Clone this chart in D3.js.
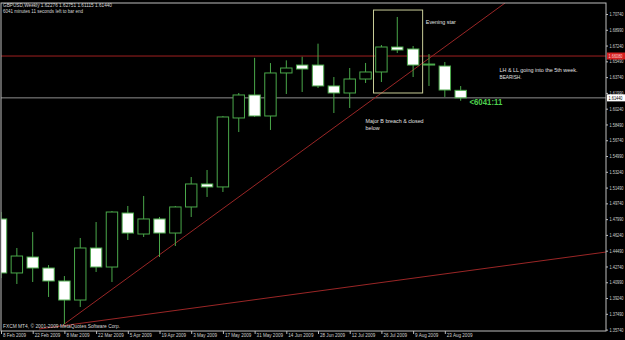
<!DOCTYPE html>
<html>
<head>
<meta charset="utf-8">
<script src="https://cdn.jsdelivr.net/npm/d3@7"></script>
<style>
  body { margin: 0; background: #000; }
  svg { display: block; }
  text { font-family: "Liberation Sans", Arial, sans-serif; }
</style>
</head>
<body>
<div id="chart"></div>
<script>
// GBPUSD weekly bars
var weeks = ["8 Feb 2009","15 Feb 2009","22 Feb 2009","1 Mar 2009","8 Mar 2009","15 Mar 2009",
  "22 Mar 2009","29 Mar 2009","5 Apr 2009","12 Apr 2009","19 Apr 2009","26 Apr 2009",
  "3 May 2009","10 May 2009","17 May 2009","24 May 2009","31 May 2009","7 Jun 2009",
  "14 Jun 2009","21 Jun 2009","28 Jun 2009","5 Jul 2009","12 Jul 2009","19 Jul 2009",
  "26 Jul 2009","2 Aug 2009","9 Aug 2009","16 Aug 2009","23 Aug 2009","30 Aug 2009"];

var opens  = [1.4801,1.4202,1.4379,1.4257,1.4113,1.3902,1.4479,1.4268,1.4867,1.4634,
              1.4801,1.4645,1.4934,1.5189,1.5156,1.5921,1.6176,1.5943,1.6420,1.6508,
              1.6508,1.6276,1.6198,1.6353,1.6431,1.6708,1.6686,1.6508,1.6497,1.62276];
var highs  = [1.4878,1.4479,1.4656,1.4290,1.4168,1.4590,1.4767,1.4889,1.4945,1.5056,
              1.4823,1.4945,1.5266,1.5344,1.5943,1.6198,1.6588,1.6530,1.6560,1.6600,
              1.6745,1.6375,1.6475,1.6531,1.6730,1.7041,1.6719,1.6630,1.6542,1.62751];
var lows   = [1.4146,1.4080,1.4102,1.3936,1.3636,1.3825,1.4213,1.4102,1.4568,1.4601,
              1.4379,1.4501,1.4823,1.5045,1.5100,1.5765,1.5932,1.5788,1.6187,1.6209,
              1.6253,1.5976,1.6032,1.6309,1.6320,1.6642,1.6375,1.6276,1.6154,1.61115];
var closes = [1.4202,1.4390,1.4257,1.4113,1.3902,1.4479,1.4268,1.4878,1.4645,1.4801,
              1.4645,1.4934,1.5189,1.5156,1.5932,1.6176,1.5943,1.6420,1.6475,1.6464,
              1.6276,1.6198,1.6353,1.6431,1.6708,1.6675,1.6508,1.6519,1.6231,1.61440];

var priceTicks = ["1.35740","1.37490","1.39240","1.40990","1.42740","1.44490","1.46240",
  "1.47990","1.49740","1.51490","1.53240","1.54990","1.56740","1.58490","1.60240",
  "1.61990","1.63740","1.65490","1.67240","1.68990","1.70740"];

var bidPrice = 1.61440, resistPrice = 1.66080;

// trendlines as [bar, price] anchors
var trendUp   = [[4, 1.3636], [31.8, 1.7196]];
var trendLow  = [[2.4, 1.3581], [38.2, 1.4435]];

var header1 = "GBPUSD,Weekly  1.62276 1.62751 1.61115 1.61440";
var header2 = "6041 minutes 11 seconds left to bar end";
var copyright = "FXCM MT4, \u00A9 2001-2009 MetaQuotes Software Corp.";

var notes = [
  {bar: 26.8, price: 1.6963, text: "Evening star", w: 30},
  {bar: 31.45, price: 1.6431, text: "LH & LL going into the 5th week.", w: 78},
  {bar: 31.45, price: 1.6353, text: "BEARISH.", w: 22},
  {bar: 23.0, price: 1.5865, text: "Major B breach & closed", w: 58},
  {bar: 23.0, price: 1.5788, text: "below", w: 14}
];
var countdown = {bar: 29.55, price: 1.6060, text: "<6041:11"};
var starBox = {bars: [23.5, 26.6], prices: [1.6198, 1.7118]};

var W = 625, H = 340,
    pl = 1, pt = 3, pr = 606, pb = 331;

var bars = weeks.map(function(w, i) {
  return {i: i, week: w, o: opens[i], h: highs[i], l: lows[i], c: closes[i]};
});

// squeeze text to look like the small condensed terminal font
function squeeze(sel, f) {
  sel.each(function() {
    var n = this.getComputedTextLength();
    d3.select(this).attr("textLength", n * f).attr("lengthAdjust", "spacingAndGlyphs");
  });
}

var svg = d3.select("#chart").append("svg")
  .attr("width", W).attr("height", H)
  .style("background", "#000");

var x = d3.scaleLinear().domain([0, 38.2]).range([1, 606.5]);
var y = d3.scaleLinear().domain([1.35740, 1.70740]).range([329.6, 14]);

svg.append("clipPath").attr("id", "plotclip")
  .append("rect").attr("x", pl).attr("y", pt)
  .attr("width", pr - pl).attr("height", pb - pt);

var plot = svg.append("g").attr("clip-path", "url(#plotclip)");

// horizontal lines
plot.append("line")
  .attr("x1", pl).attr("x2", pr)
  .attr("y1", y(resistPrice)).attr("y2", y(resistPrice))
  .attr("stroke", "#a02020").attr("stroke-width", 1);
plot.append("line")
  .attr("x1", pl).attr("x2", pr)
  .attr("y1", y(bidPrice)).attr("y2", y(bidPrice))
  .attr("stroke", "#b4b4b4").attr("stroke-width", 0.8);

// trendlines
var tl = d3.line().x(function(d) { return x(d[0]); }).y(function(d) { return y(d[1]); });
[trendUp, trendLow].forEach(function(t) {
  plot.append("path").attr("d", tl(t))
    .attr("fill", "none").attr("stroke", "#9a2626").attr("stroke-width", 1);
});

// evening star box
plot.append("rect")
  .attr("x", x(starBox.bars[0])).attr("y", y(starBox.prices[1]))
  .attr("width", x(starBox.bars[1]) - x(starBox.bars[0]))
  .attr("height", y(starBox.prices[0]) - y(starBox.prices[1]))
  .attr("fill", "none").attr("stroke", "#c8cc98").attr("stroke-width", 1);

// candles
var bw = (x(1) - x(0)) * 0.72;
var candle = plot.selectAll("g.candle").data(bars).enter().append("g").attr("class", "candle");
candle.append("line")
  .attr("x1", function(d) { return x(d.i); })
  .attr("x2", function(d) { return x(d.i); })
  .attr("y1", function(d) { return y(d.h); })
  .attr("y2", function(d) { return y(d.l); })
  .attr("stroke", "#4aa84a").attr("stroke-width", 1);
candle.append("rect")
  .attr("x", function(d) { return x(d.i) - bw / 2; })
  .attr("y", function(d) { return y(Math.max(d.o, d.c)); })
  .attr("width", bw)
  .attr("height", function(d) { return Math.max(1, Math.abs(y(d.o) - y(d.c))); })
  .attr("fill", function(d) { return d.c >= d.o ? "#000" : "#fff"; })
  .attr("stroke", "#4aa84a").attr("stroke-width", 1);

// frame
svg.append("rect")
  .attr("x", pl).attr("y", pt)
  .attr("width", pr - pl).attr("height", pb - pt)
  .attr("fill", "none").attr("stroke", "#bdbdbd").attr("stroke-width", 1);

// right price axis
var yAxis = svg.append("g")
  .attr("transform", "translate(" + pr + ",0)")
  .call(d3.axisRight(y).tickValues(priceTicks.map(Number))
    .tickFormat(function(d, i) { return priceTicks[i]; })
    .tickSize(2).tickPadding(1.5));
yAxis.select(".domain").remove();
yAxis.selectAll("line").attr("stroke", "#bdbdbd");
yAxis.selectAll("text").attr("fill", "#d0d0d0").style("font-size", "5px")
  .attr("textLength", 14).attr("lengthAdjust", "spacingAndGlyphs");

// bottom date axis
var xAxis = svg.append("g")
  .attr("transform", "translate(0," + pb + ")")
  .call(d3.axisBottom(x).tickValues(d3.range(0, 29, 2))
    .tickFormat(function(d) { return weeks[d]; })
    .tickSize(3).tickPadding(0));
xAxis.select(".domain").remove();
xAxis.selectAll("line").attr("stroke", "#bdbdbd");
xAxis.selectAll("text").attr("fill", "#d0d0d0").style("font-size", "5.2px")
  .attr("text-anchor", "start").attr("dx", 1.5).attr("dy", "0.6em");
squeeze(xAxis.selectAll("text"), 0.88);

// price labels on the axis
function priceTag(p, bg, fg) {
  var g = svg.append("g").attr("transform", "translate(" + (pr + 1) + "," + y(p) + ")");
  g.append("rect").attr("x", 0).attr("y", -3.5).attr("width", 18).attr("height", 7).attr("fill", bg);
  g.append("text").attr("x", 1.5).attr("y", 2).attr("fill", fg).style("font-size", "5px")
    .attr("textLength", 14).attr("lengthAdjust", "spacingAndGlyphs")
    .text(p.toFixed(5));
}
priceTag(resistPrice, "#d42020", "#ffd0d0");
priceTag(bidPrice, "#ffffff", "#000");

// header and footer texts
svg.append("text").attr("x", 3).attr("y", 7).attr("fill", "#d8d8d8")
  .style("font-size", "5.4px").attr("textLength", 109).attr("lengthAdjust", "spacingAndGlyphs")
  .text(header1);
svg.append("text").attr("x", 3).attr("y", 12.5).attr("fill", "#d8d8d8")
  .style("font-size", "5px").attr("textLength", 80).attr("lengthAdjust", "spacingAndGlyphs")
  .text(header2);
svg.append("text").attr("x", 3).attr("y", 328).attr("fill", "#d8d8d8")
  .style("font-size", "5.4px").attr("textLength", 117).attr("lengthAdjust", "spacingAndGlyphs")
  .text(copyright);

// annotations
svg.selectAll("text.note").data(notes).enter().append("text")
  .attr("class", "note")
  .attr("x", function(d) { return x(d.bar); })
  .attr("y", function(d) { return y(d.price); })
  .attr("fill", "#e0e0e0").style("font-size", "5.6px")
  .attr("textLength", function(d) { return d.w; }).attr("lengthAdjust", "spacingAndGlyphs")
  .text(function(d) { return d.text; });

svg.append("text")
  .attr("x", x(countdown.bar)).attr("y", y(countdown.price))
  .attr("fill", "#4ed04e").style("font-size", "9px").style("font-weight", "bold")
  .attr("textLength", 33).attr("lengthAdjust", "spacingAndGlyphs")
  .text(countdown.text);
</script>
</body>
</html>
